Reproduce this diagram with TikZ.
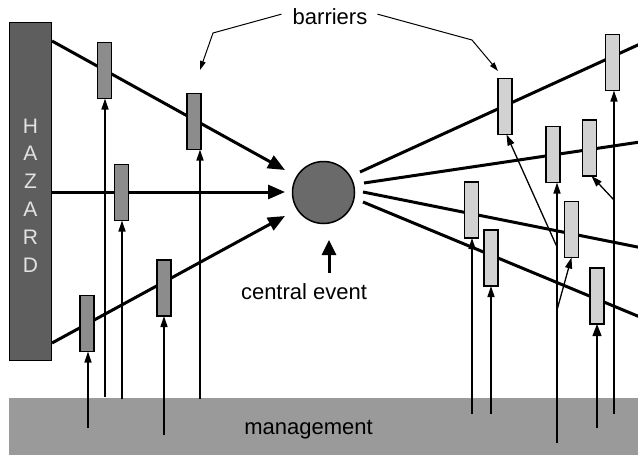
\documentclass[tikz,border=0pt]{standalone}
\usepackage{fontspec}
\setmainfont{Liberation Sans}
\usetikzlibrary{arrows.meta,calc}
\definecolor{hazgray}{HTML}{5E5E5E}
\definecolor{evgray}{HTML}{6A6A6A}
\definecolor{lbargray}{HTML}{8C8C8C}
\definecolor{rbargray}{HTML}{D2D2D2}
\definecolor{mangray}{HTML}{9A9A9A}
\definecolor{hztext}{HTML}{E2E2E2}
\begin{document}
\begin{tikzpicture}[x=1pt,y=-1pt,
  bigarrow/.style={line width=3pt,-{Triangle[length=17pt,width=14pt]}},
  thickline/.style={line width=3pt},
  thinarrow/.style={line width=1.3pt,-{Triangle[length=11pt,width=7pt]}},
  widearrow/.style={line width=1.3pt,-{Triangle[length=12pt,width=9pt]}},
  callout/.style={line width=1pt,-{Triangle[length=9pt,width=5.5pt]}},
  barrierbox/.style={draw=black,line width=1.8pt,minimum width=14pt,minimum height=56pt,inner sep=0pt,outer sep=0pt},
  lbar/.style={barrierbox,fill=lbargray},
  rbar/.style={barrierbox,fill=rbargray},
  label/.style={font=\fontsize{22}{26}\selectfont,anchor=base,inner sep=0pt},
  hzletter/.style={font=\fontsize{21}{25}\selectfont,text=hztext,anchor=base,inner sep=0pt}]
\useasboundingbox (0,0) rectangle (638,455);

% management
\fill[mangray] (9,398) rectangle (640,456);
\node[label] (man) at (308.5,434) {management};

% hazard
\node[draw=black,line width=1.5pt,fill=hazgray,minimum width=42pt,minimum height=338pt,inner sep=0pt] (haz) at (30.5,191.5) {};
\foreach \l [count=\i] in {H,A,Z,A,R,D}
  \node[hzletter] (hz\i) at (30.5,{133+27.8*(\i-1)}) {\l};

% central event
\node[circle,draw=black,line width=1.5pt,fill=evgray,minimum size=62pt,inner sep=0pt] (ce) at (323.5,192.5) {};

% coordinates
\coordinate (h1) at (52,41);
\coordinate (h2) at (52,192);
\coordinate (h3) at (52,343);
\coordinate (t1) at (285,170);
\coordinate (t2) at (285,192);
\coordinate (t3) at (285,216);
\coordinate (sA) at (360,172);
\coordinate (sB) at (364,183);
\coordinate (sC) at (363,192);
\coordinate (sD) at (363,202);
\coordinate (eA) at (640,44);
\coordinate (eB) at (640,142);
\coordinate (eC) at (640,247.5);
\coordinate (eD) at (640,317);

% main lines
\draw[bigarrow] (h1) -- (t1);
\draw[bigarrow] (h2) -- (t2);
\draw[bigarrow] (h3) -- (t3);
\draw[thickline] (sA) -- (eA);
\draw[thickline] (sB) -- (eB);
\draw[thickline] (sC) -- (eC);
\draw[thickline] (sD) -- (eD);

% left barriers
\node[lbar] (b1) at (104.5,70.5) {};
\node[lbar] (b2) at (194,121.5) {};
\node[lbar] (b3) at (121.5,192.5) {};
\node[lbar] (b4) at (87,323.5) {};
\node[lbar] (b5) at (164,288) {};

% right barriers
\node[rbar] (r1) at (505,106.5) {};
\node[rbar] (r2) at (612.5,62.5) {};
\node[rbar] (r3) at (553,154.5) {};
\node[rbar] (r4) at (589.5,148) {};
\node[rbar] (r5) at (471.5,210) {};
\node[rbar] (r6) at (491,258) {};
\node[rbar] (r7) at (571.5,229.5) {};
\node[rbar] (r8) at (597,296) {};

% management arrows, left
\coordinate (m1) at (105,397);
\coordinate (m2) at (122,399);
\coordinate (m3) at (200,399);
\coordinate (m4) at (88,428);
\coordinate (m5) at (164,435);
\draw[thinarrow] (m1) -- (m1 |- b1.south);
\draw[thinarrow] (m2) -- (m2 |- b3.south);
\draw[thinarrow] (m3) -- (m3 |- b2.south);
\draw[thinarrow] (m4) -- (m4 |- b4.south);
\draw[thinarrow] (m5) -- (m5 |- b5.south);

% management arrows, right
\coordinate (n1) at (472,414);
\coordinate (n2) at (491,414);
\coordinate (n3) at (557,443);
\coordinate (n4) at (614,414);
\coordinate (n5) at (597,428);
\coordinate (br1) at (557,247);
\coordinate (br2) at (557,310);
\coordinate (br3) at (614,200);
\draw[thinarrow] (n1) -- (n1 |- r5.south);
\draw[thinarrow] (n2) -- (n2 |- r6.south);
\draw[thinarrow] (n3) -- (n3 |- r3.south);
\draw[thinarrow] (n4) -- (n4 |- r2.south);
\draw[widearrow] (n5) -- (n5 |- r8.south);
\draw[thinarrow] (br1) -- ($(r1.south)+(1.5,0)$);
\draw[thinarrow] (br2) -- (r7.south);
\draw[thinarrow] (br3) -- ($(r4.south)+(2,0)$);

% barriers callout
\node[label] (bar) at (330,24) {barriers};
\coordinate (k1) at (213,33);
\coordinate (c1) at (200,70);
\coordinate (k2) at (472,40);
\coordinate (c2) at (498,71);
\draw[callout] ($(bar.west)+(-11,-2)$) -- (k1) -- (c1);
\draw[callout] ($(bar.east)+(10,-2)$) -- (k2) -- (c2);

% central event label
\node[label] (cev) at (304,299) {central event};
\coordinate (ca) at (329,273);
\coordinate (cb) at (329,240);
\draw[line width=3pt,-{Triangle[length=15pt,width=14pt]}] (ca) -- (cb);
\end{tikzpicture}
\end{document}
